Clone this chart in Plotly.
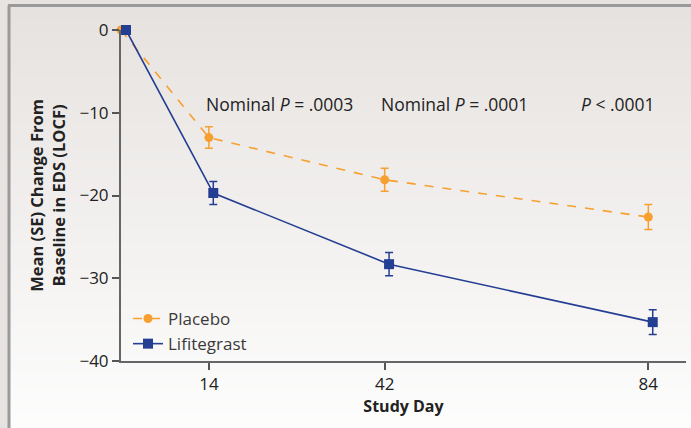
import plotly.graph_objects as go

days = [0, 14, 42, 84]
placebo = [0, -13.0, -18.1, -22.6]
placebo_se = [0, 1.3, 1.4, 1.5]
lifitegrast = [0, -19.7, -28.3, -35.3]
lifitegrast_se = [0, 1.4, 1.4, 1.5]
x_ticks = [14, 42, 84]
y_ticks = [0, -10, -20, -30, -40]
p_labels = ["Nominal <i>P</i> = .0003", "Nominal <i>P</i> = .0001", "<i>P</i> < .0001"]
p_label_x = [25.3, 53.2, 79.2]

ORANGE = "#f7a030"
BLUE = "#243e93"
FONT = "Open Sans"

W, H = 691, 428
ML, MR, MT, MB = 121, 5, 30, 67
PW, PH = W - ML - MR, H - MT - MB


def px2x(p):
    return (p - ML) / PW


def px2y(p):
    return (H - MB - p) / PH


blue_shift = 0.7  # visual horizontal offset of lifitegrast markers

fig = go.Figure()
fig.add_trace(go.Scatter(
    x=days, y=placebo, name="Placebo", mode="lines+markers",
    line=dict(color=ORANGE, width=1.6, dash="dash"),
    marker=dict(symbol="circle", size=9, color=ORANGE),
    error_y=dict(type="data", array=placebo_se, color=ORANGE, thickness=1.5, width=4),
    cliponaxis=False,
))
fig.add_trace(go.Scatter(
    x=[d + (blue_shift if d else 0.8) for d in days], y=lifitegrast, name="Lifitegrast",
    mode="lines+markers",
    line=dict(color=BLUE, width=1.6),
    marker=dict(symbol="square", size=10, color=BLUE),
    error_y=dict(type="data", array=lifitegrast_se, color=BLUE, thickness=1.5, width=4),
    cliponaxis=False,
))

for txt, xv in zip(p_labels, p_label_x):
    fig.add_annotation(x=xv, y=-9.0, text=txt, showarrow=False,
                       font=dict(family=FONT, size=17.5, color="#222222"))

# gradient background inside frame
shapes = []
n = 60
top_c = (230, 226, 223)
bot_c = (253, 253, 253)
y_top_px, y_bot_px = 5, H
for i in range(n):
    t = i / (n - 1)
    c = tuple(round(top_c[k] + (bot_c[k] - top_c[k]) * t) for k in range(3))
    p0 = y_top_px + (y_bot_px - y_top_px) * i / n
    p1 = y_top_px + (y_bot_px - y_top_px) * (i + 1) / n + 0.5
    shapes.append(dict(type="rect", xref="paper", yref="paper", layer="below",
                       x0=px2x(9), x1=px2x(W + 2), y0=px2y(p1), y1=px2y(p0),
                       fillcolor="rgb(%d,%d,%d)" % c, line=dict(width=0)))
# frame lines
shapes.append(dict(type="line", xref="paper", yref="paper", layer="below",
                   x0=px2x(9), x1=px2x(9), y0=px2y(5.5), y1=px2y(H + 2),
                   line=dict(color="#9a9a9a", width=3)))
shapes.append(dict(type="line", xref="paper", yref="paper", layer="below",
                   x0=px2x(8), x1=px2x(W + 2), y0=px2y(5.5), y1=px2y(5.5),
                   line=dict(color="#9a9a9a", width=3)))

fig.update_layout(
    width=W, height=H,
    margin=dict(l=ML, r=MR, t=MT, b=MB, autoexpand=False),
    paper_bgcolor="#e6e3e0",
    plot_bgcolor="rgba(0,0,0,0)",
    shapes=shapes,
    font=dict(family=FONT, size=17, color="#222222"),
    showlegend=True,
    legend=dict(x=px2x(128), y=px2y(301), xanchor="left", yanchor="top",
                bgcolor="rgba(0,0,0,0)", font=dict(family=FONT, size=17, color="#3a3a3a"),
                itemwidth=30, tracegroupgap=0),
    xaxis=dict(range=[0, 90], tickvals=x_ticks, ticks="outside", ticklen=7,
               tickcolor="#555555", tickwidth=1.5, showline=True, linecolor="#666666",
               linewidth=2, showgrid=False, zeroline=False, automargin=False,
               tickfont=dict(family=FONT, size=17, color="#222222"),
               title=dict(text="<b>Study Day</b>", font=dict(family=FONT, size=16, color="#222222"),
                          standoff=4)),
    yaxis=dict(range=[-40, 0], tickvals=y_ticks,
               ticktext=[("\u2212" + str(abs(v))) if v < 0 else str(v) for v in y_ticks],
               ticks="outside", ticklen=7, tickcolor="#555555", tickwidth=1.5,
               showline=True, linecolor="#666666", linewidth=2, showgrid=False, zeroline=False,
               automargin=False,
               tickfont=dict(family=FONT, size=17, color="#222222"),
               title=dict(text="<b>Mean (SE) Change From<br>Baseline in EDS (LOCF)</b>",
                          font=dict(family=FONT, size=16.5, color="#222222"), standoff=10)),
)

fig.write_html("out.html", config={"displayModeBar": False})
with open("out.html", encoding="utf-8") as f:
    html = f.read()
html = html.replace("<head>", "<head><style>html,body{margin:0;padding:0;overflow:hidden;}</style>", 1)
with open("out.html", "w", encoding="utf-8") as f:
    f.write(html)
